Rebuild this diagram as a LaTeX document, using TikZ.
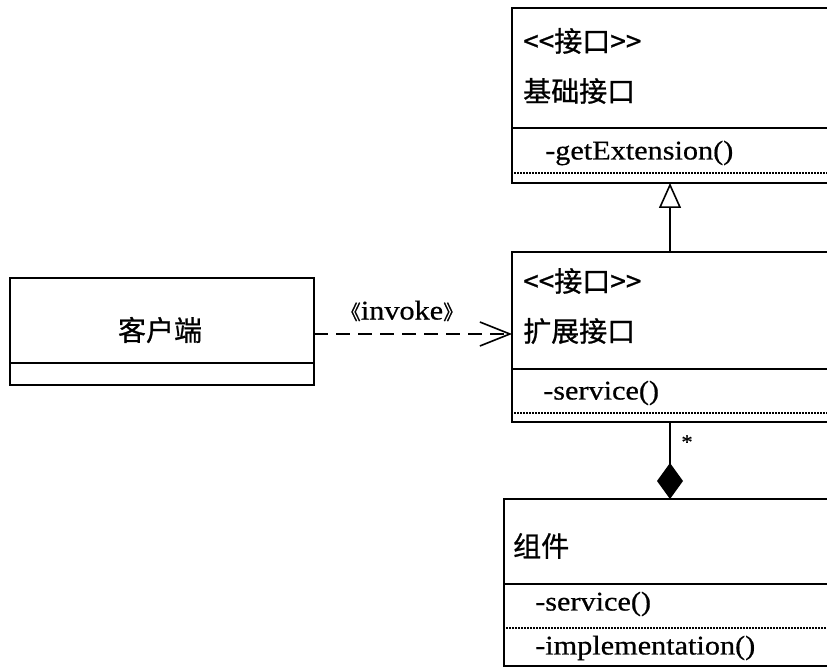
\documentclass[tikz,border=0pt]{standalone}
\usepackage{fontspec}
\setmainfont{Liberation Serif}[FakeStretch=1.12,FakeBold=0.6]
\newfontfamily\cjk{Noto Sans CJK SC}[FakeBold=0.8]
\usetikzlibrary{arrows.meta}
\tikzset{
  umlbox/.style={line width=1.6pt},
  opsep/.style={line width=1.3pt,dash pattern=on 2pt off 1pt},
  txt/.style={anchor=west,inner sep=0pt},
  cjktxt/.style={font=\cjk\fontsize{28}{32}\selectfont},
}
\begin{document}
\begin{tikzpicture}[x=1pt,y=-1pt,font=\fontsize{27}{31}\selectfont]
        \useasboundingbox (0,0) rectangle (827,671);
        \clip (0,0) rectangle (827,671);
        % base interface
        \draw[umlbox] (512,8) rectangle (850,183);
        \draw[umlbox] (512,128) -- (850,128);
        \draw[opsep] (514,173) -- (850,173);
        \node[txt,cjktxt] (baseStereo) at (523,41) {{<}{<}接口{>}{>}};
        \node[txt,cjktxt] (baseName) at (523,91) {基础接口};
        \node[txt] (baseOp) at (545,153) {-getExtension()};
        \coordinate (baseS) at (670,183);
        % extension interface
        \draw[umlbox] (512,252) rectangle (850,422);
        \draw[umlbox] (512,369) -- (850,369);
        \draw[opsep] (514,413) -- (850,413);
        \node[txt,cjktxt] (extStereo) at (523,281) {{<}{<}接口{>}{>}};
        \node[txt,cjktxt] (extName) at (523,331) {扩展接口};
        \node[txt] (extOp) at (543,393) {-service()};
        \coordinate (extN) at (670,252);
        \coordinate (extW) at (512,334);
        \coordinate (extS) at (670,422);
        % client
        \draw[umlbox] (10,278) rectangle (314,385);
        \draw[umlbox] (10,363) -- (314,363);
        \node[cjktxt] (client) at (160,330) {客户端};
        \coordinate (clientE) at (314,334);
        % component
        \draw[umlbox] (504,499) rectangle (850,666);
        \draw[umlbox] (504,584) -- (850,584);
        \draw[opsep] (506,628) -- (850,628);
        \node[txt,cjktxt] (compName) at (513,546) {组件};
        \node[txt] (compOp) at (535,604) {-service()};
        \node[txt] (compImpl) at (535,648) {-implementation()};
        \coordinate (compN) at (670,499);
        % relations
        \draw[line width=1.6pt,-{Triangle[open,length=25pt,width=22pt,line width=1.6pt]}] (extN) -- (baseS);
        \draw[line width=1.6pt,dash pattern=on 14pt off 8pt,-{Straight Barb[length=30pt,width=24pt,line width=1.6pt]}] (clientE) -- (extW);
        \node (invoke) at (402,311) {{\cjk\fontsize{20}{24}\selectfont《}invoke{\cjk\fontsize{20}{24}\selectfont》}};
        \draw[line width=1.6pt,-{Diamond[length=36pt,width=26pt]}] (extS) -- (compN);
        \node (mult) at (687,442) {\fontsize{20}{24}\selectfont *};
    \end{tikzpicture}
\end{document}
